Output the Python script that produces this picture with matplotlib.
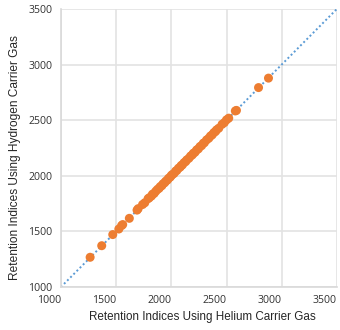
import matplotlib
matplotlib.use("Agg")
import matplotlib.pyplot as plt

helium = [1265, 1370, 1470, 1525, 1550, 1560, 1620, 1690, 1700, 1740, 1760, 1790, 1800,
          1820, 1830, 1845, 1860, 1875, 1890, 1900, 1915, 1925, 1940, 1950, 1965, 1975,
          1990, 2000, 2010, 2025, 2040, 2050, 2065, 2080, 2090, 2100, 2115, 2130, 2140,
          2160, 2175, 2190, 2200, 2215, 2230, 2245, 2260, 2275, 2290, 2300, 2320, 2340,
          2355, 2370, 2385, 2400, 2410, 2430, 2460, 2480, 2500, 2520, 2580, 2590, 2790, 2880]
hydrogen = [1268, 1372, 1472, 1522, 1553, 1562, 1618, 1692, 1705, 1742, 1758, 1795, 1802,
            1818, 1835, 1842, 1862, 1878, 1888, 1903, 1912, 1928, 1938, 1952, 1962, 1978,
            1988, 2003, 2012, 2022, 2043, 2048, 2068, 2078, 2093, 2098, 2118, 2128, 2143,
            2158, 2178, 2188, 2203, 2212, 2233, 2242, 2263, 2272, 2293, 2298, 2323, 2338,
            2358, 2368, 2388, 2398, 2413, 2428, 2463, 2478, 2503, 2518, 2583, 2588, 2793, 2878]
ref_line = [1000, 3500]
ticks = [1000, 1500, 2000, 2500, 3000, 3500]

fig = plt.figure(figsize=(3.4, 3.3), dpi=100)
ax = fig.add_axes([0.179, 0.130, 0.812, 0.843])
ax.plot(ref_line, ref_line, linestyle=(0, (1, 1.3)), color="#5B9BD5", linewidth=1.4, zorder=2)
ax.scatter(helium, hydrogen, s=42, color="#ED7D31", edgecolors="none", zorder=3)
ax.set_xlim(1000, 3500)
ax.set_ylim(1000, 3500)
ax.set_xticks(ticks)
ax.set_yticks(ticks)
ax.set_xticklabels([str(t) for t in ticks], ha="right", family="Open Sans")
ax.set_yticklabels([str(t) for t in ticks], family="Open Sans")
ax.grid(True, color="#E3E3E3", linewidth=1.2)
ax.set_axisbelow(True)
for s in ["top", "right"]:
    ax.spines[s].set_visible(False)
for s in ["left", "bottom"]:
    ax.spines[s].set_color("#D9D9D9")
    ax.spines[s].set_linewidth(1.2)
ax.tick_params(length=0, labelsize=7.6, colors="#333333", pad=6)
ax.set_xlabel("Retention Indices Using Helium Carrier Gas", fontsize=8.4,
              family="Liberation Sans", color="#262626")
ax.set_ylabel("Retention Indices Using Hydrogen Carrier Gas", fontsize=8.6,
              family="Liberation Sans", color="#262626")
ax.xaxis.set_label_coords(0.514, -0.107)
ax.yaxis.set_label_coords(-0.165, 0.464)
ax.xaxis.label.set_va("center")
ax.yaxis.label.set_va("center")
fig.savefig("out.png", dpi=100, facecolor="white")
